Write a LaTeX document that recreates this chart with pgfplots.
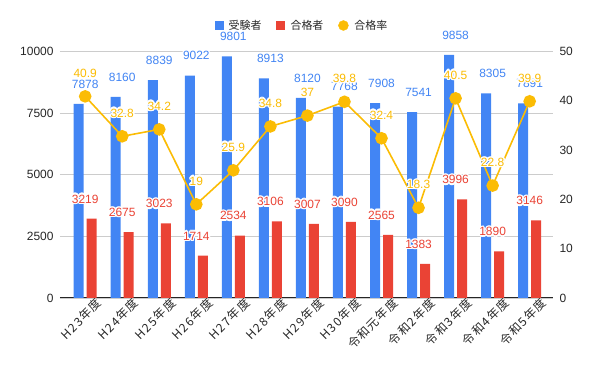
\documentclass[border=0pt]{standalone}
\usepackage{fontspec}
\setmainfont{Liberation Sans}
\newfontfamily\jp{Noto Sans CJK JP}
\newfontfamily\jpx[LetterSpace=10]{Noto Sans CJK JP}
\usepackage[copies]{contour}
\contourlength{1.3pt}
\contournumber{16}
\usepackage{pgfplots}
\usepackage{pgfplotstable}
\pgfplotsset{compat=1.18}
\definecolor{gblue}{HTML}{4285F4}
\definecolor{gred}{HTML}{EA4335}
\definecolor{gyel}{HTML}{FBBC04}
\definecolor{ggrid}{HTML}{CCCCCC}
\pgfplotstableread{
x exam pass rate
0 7878 3219 40.9
1 8160 2675 32.8
2 8839 3023 34.2
3 9022 1714 19
4 9801 2534 25.9
5 8913 3106 34.8
6 8120 3007 37
7 7768 3090 39.8
8 7908 2565 32.4
9 7541 1383 18.3
10 9858 3996 40.5
11 8305 1890 22.8
12 7891 3146 39.9
}\data
\pgfplotsset{
  /pgf/number format/1000 sep={},
  /pgf/number format/assume math mode=true,
}
\newcommand{\lf}{\fontsize{12}{14}\selectfont}
\begin{document}
\begin{tikzpicture}
\useasboundingbox (0,0) rectangle (600bp,371bp);
\begin{axis}[
  at={(60bp,73bp)}, anchor=south west, scale only axis,
  width=493bp, height=246.5bp,
  xmin=-0.68, xmax=12.63, ymin=0, ymax=10000,
  scaled y ticks=false,
  axis x line*=bottom, axis y line*=left,
  axis line style={-},
  y axis line style={draw=none},
  x axis line style={black!85, line width=1bp},
  major tick length=0pt,
  ytick={0,2500,5000,7500,10000},
  ymajorgrids, grid style={ggrid, line width=0.8bp},
  yticklabel style={font=\lf, text=black!85, xshift=-3bp},
  xtick={0,...,12},
  xticklabels={H23年度,H24年度,H25年度,H26年度,H27年度,H28年度,H29年度,H30年度,令和元年度,令和2年度,令和3年度,令和4年度,令和5年度},
  xticklabel style={font=\jpx\fontsize{12}{14}\selectfont, text=black!85, rotate=45, anchor=east, inner sep=0pt, xshift=8bp, yshift=-12bp},
  clip=false,
]
\addplot[ybar, bar width=10bp, bar shift=-6.5bp, fill=gblue, draw=none,
  nodes near coords={\contour{white}{\pgfmathprintnumber{\pgfplotspointmeta}}},
  nodes near coords style={text=gblue, font=\lf, inner sep=0pt, anchor=south, yshift=14bp}]
  table[x=x,y=exam]{\data};
\addplot[ybar, bar width=10bp, bar shift=6.5bp, fill=gred, draw=none,
  nodes near coords={\contour{white}{\pgfmathprintnumber{\pgfplotspointmeta}}},
  nodes near coords style={text=gred, font=\lf, inner sep=0pt, anchor=south, yshift=14bp}]
  table[x=x,y=pass]{\data};
\end{axis}
\begin{axis}[
  at={(60bp,73bp)}, anchor=south west, scale only axis,
  width=493bp, height=246.5bp,
  xmin=-0.68, xmax=12.63, ymin=0, ymax=50,
  axis x line=none, axis y line*=right,
  axis line style={-},
  y axis line style={draw=none},
  major tick length=0pt,
  ytick={0,10,20,30,40,50},
  yticklabel style={font=\lf, text=black!85, xshift=3bp},
  clip=false,
  legend style={draw=none, fill=none, legend columns=3, at={(0.5,1)}, anchor=center,
    yshift=26bp, xshift=-4.5bp, font=\jp\fontsize{11}{13}\selectfont, text=black!85,
    /tikz/every odd column/.append style={column sep=4bp},
    /tikz/every even column/.append style={column sep=13bp}},
  legend entries={受験者,合格者,合格率},
]
\addlegendimage{only marks, mark=square*, mark size=4bp, mark options={draw=gblue, fill=gblue}}
\addlegendimage{only marks, mark=square*, mark size=4bp, mark options={draw=gred, fill=gred}}
\addlegendimage{only marks, mark=*, mark size=5bp, mark options={draw=gyel, fill=gyel}}
\addplot[forget plot, gyel, line width=1.6bp, mark=*, mark size=5.5bp, mark options={fill=gyel, draw=gyel},
  nodes near coords={\contour{white}{\pgfmathprintnumber{\pgfplotspointmeta}}},
  nodes near coords style={text=gyel, font=\lf, inner sep=0pt, anchor=south, yshift=17bp}]
  table[x=x,y=rate]{\data};
\end{axis}
\end{tikzpicture}
\end{document}
